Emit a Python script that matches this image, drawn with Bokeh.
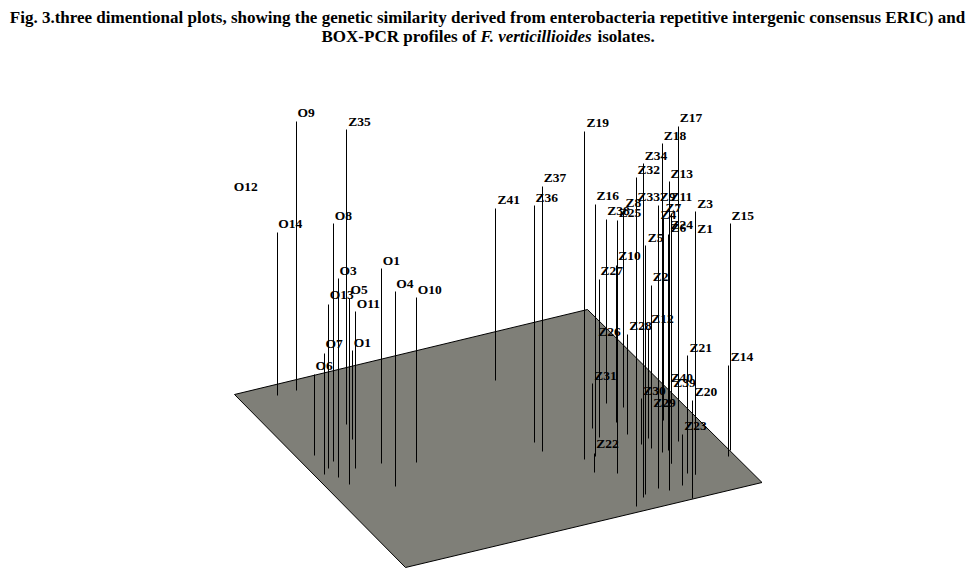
from bokeh.plotting import figure
from bokeh.models import Range1d
from bokeh.core.properties import value
from bokeh.embed import file_html
from bokeh.resources import INLINE

# plate corners (in picture coordinates)
plate_x = [234, 587, 761.5, 405]
plate_y = [394, 309, 482, 567]

# stems: name, x, top, bottom
stem_names = ["O14","O9","O6","O7","O13","O8","O3","Z35","O5","O1b","O11","O1","O4","O10",
              "Z41","Z36","Z37","Z19","Z31","Z22","Z16","Z27","Z38","Z25","Z10","Z8","Z28",
              "Z32","Z33","Z30","Z34","Z5","Z12","Z2","Z9","Z18","Z4","Z13","Z11","Z6","Z24",
              "Z40","Z7","Z39","Z17","Z23","Z21","Z20","Z3","Z1","Z14","Z15"]
stem_x = [277,296,314,324,328,333,338,346,349,352,355,381,395,416,
          495,534,542,584,592,594,595,599,606,617,616,623,627,
          636,636,641,643,645,648,651,658,662,663,669,669,668,669,
          669,671,671,678,682,687,692,695,695,728,730]
stem_top = [232,121,374,353,304,223,278,129,298,350,311,268,291,297,
            208,205,186,131,383,453,204,279,219,220,265,210,334,
            177,205,398,163,245,328,285,205,143,218,181,203,234,232,
            381,213,387,126,434,355,400,211,235,365,223]
stem_bot = [395,390,455,474,468,461,477,424,484,439,468,463,486,462,
            380,442,451,459,428,472,456,437,403,473,422,407,434,
            506,470,444,497,494,438,448,488,452,420,490,470,450,462,
            480,463,463,441,485,473,498,474,474,456,450]

# labels: text, left, baseline
label_text = ["O9","Z35","O12","O14","O8","O3","O1","O4","O10","O13","O5","O11","O7","O1","O6",
              "Z41","Z36","Z37","Z19","Z17","Z18","Z34","Z32","Z13","Z16","Z33","Z9","Z11",
              "Z38","Z25","Z8","Z7","Z4","Z24","Z6","Z3","Z1","Z15","Z5","Z10","Z27","Z2",
              "Z12","Z28","Z26","Z21","Z14","Z31","Z40","Z39","Z30","Z20","Z29","Z23","Z22"]
label_x = [297,347.7,233.3,277.7,334.3,339,382.3,395.7,417.3,329.3,350,356.3,325,353.3,315,
           497,535,543.3,586,679.3,663.3,644.3,637,670,596,637,659.3,670,
           606.7,618.3,625,665,660,670,670,696.7,696.7,731,647.3,617.7,600,652.3,
           650.7,628.7,597.7,689,730.3,593.7,670,672.7,642.7,694.3,652.7,683.7,595.7]
label_y = [118,127,191.7,229,220.7,275.7,265.7,289,295,300,295,308.7,349,347.7,370.7,
           205,202.7,182.7,127.7,122.7,140.7,160.7,175,179,201,202.3,202.3,202,
           216.3,217.7,208.3,213.3,220,230,232.7,209,234,220.7,243.3,261,275.7,281.7,
           324.3,330.7,336.7,352.7,361.7,380.7,382.7,387.7,395.7,396.7,408.3,430.7,449.3]

# title runs: text, x, baseline, anchor, style
title_text = ["Fig. 3.three dimentional plots, showing the genetic similarity derived from enterobacteria repetitive intergenic consensus ERIC) and",
              "BOX-PCR profiles of", "F. verticillioides", "isolates."]
title_x = [487, 321, 480, 597]
title_y = [23, 42, 42, 42]
title_align = ["center", "left", "left", "left"]
title_style = ["bold", "bold", "bold italic", "bold"]

p = figure(width=975, height=577, x_range=Range1d(0, 975), y_range=Range1d(577, 0),
           output_backend="svg", toolbar_location=None, min_border=0,
           outline_line_color=None, background_fill_color="white")
p.axis.visible = False
p.grid.visible = False

p.patch(plate_x, plate_y, fill_color="#7f7f78", line_color="black", line_width=1)
p.segment(stem_x, stem_top, stem_x, stem_bot, line_color="black", line_width=1)
p.text(label_x, label_y, text=label_text, text_font=value("Liberation Serif"),
       text_font_size="13.5px", text_font_style="bold", text_color="black",
       text_align="left", text_baseline="alphabetic", y_offset=-6)
for t, x, y, a, s in zip(title_text, title_x, title_y, title_align, title_style):
    p.text([x], [y], text=[t], text_font=value("Liberation Serif"), text_font_size="17px",
           text_font_style=s, text_color="black", text_align=a, text_baseline="alphabetic",
           y_offset=-6)

open("out.html", "w").write(file_html(p, INLINE))
